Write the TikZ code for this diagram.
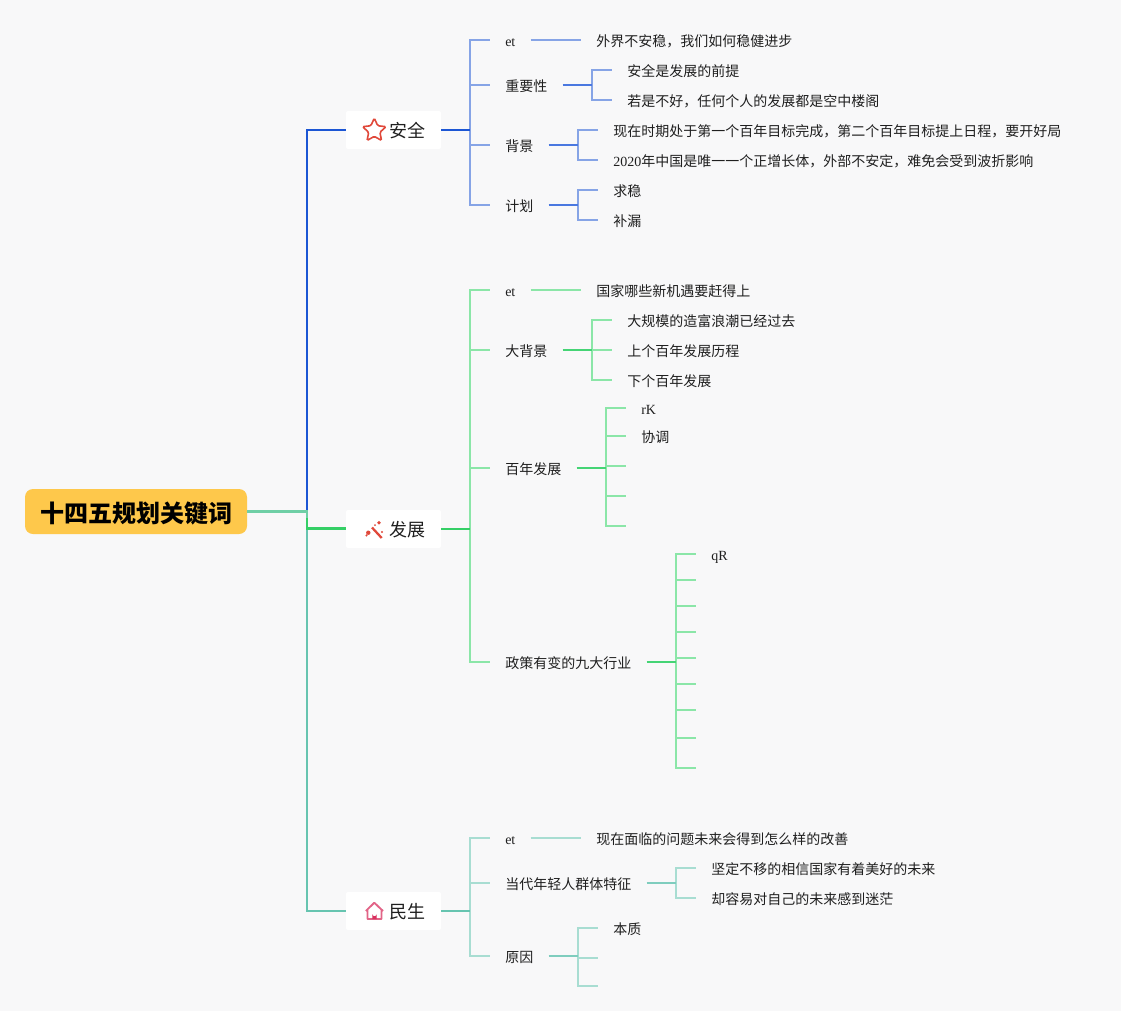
\documentclass[tikz,border=0pt]{standalone}
\usepackage{fontspec}
\usepackage{xcolor}
\usepackage{tikz}
\usetikzlibrary{shapes.geometric}
\setmainfont{Liberation Serif}
\newfontfamily\cjk{Noto Sans CJK SC}
\definecolor{kwbg}{HTML}{F8F8F9}
\definecolor{kwroot}{HTML}{FEC84B}
\definecolor{kwtext}{HTML}{1F1F1F}
\definecolor{kwred}{HTML}{E0483A}
\definecolor{kwpink}{HTML}{D9305F}
\definecolor{kwmain}{HTML}{6FCFA6}
\definecolor{safedark}{HTML}{1C56D4}
\definecolor{safemid}{HTML}{4A78E0}
\definecolor{safelight}{HTML}{86A4E6}
\definecolor{growdark}{HTML}{35CF66}
\definecolor{growmid}{HTML}{45D475}
\definecolor{growlight}{HTML}{8BE6A8}
\definecolor{lifedark}{HTML}{66C4B0}
\definecolor{lifemid}{HTML}{7FCDBE}
\definecolor{lifelight}{HTML}{A8DDD2}

\begin{document}
\begin{tikzpicture}[
    x=0.75pt, y=-0.75pt,
    rootbox/.style={rectangle, fill=kwroot, rounded corners=6pt, minimum width=166.5pt,
                  minimum height=33.75pt, inner sep=0pt, align=center, text=black,
                  text height=16.7pt, text depth=0pt,
                  font=\cjk\fontsize{18}{22}\selectfont\bfseries},
    section/.style={rectangle, fill=white, rounded corners=1.5pt, minimum height=28.5pt,
                  text width=47.25pt, inner xsep=12pt, inner ysep=0pt, align=right,
                  text height=11.3pt, text depth=0pt, text=kwtext,
                  font=\cjk\fontsize{13.5}{16}\selectfont},
    leaf/.style={rectangle, anchor=west, inner xsep=11.25pt, inner ysep=0pt,
                  text height=9.5pt, text depth=0pt, text=kwtext,
                  font=\cjk\fontsize{10.5}{13}\selectfont},
    mainline/.style={line width=2pt, kwmain},
    safestem/.style={line width=1.6pt, safemid},
    safetwig/.style={line width=1.35pt, safelight},
    growstem/.style={line width=1.6pt, growmid},
    growtwig/.style={line width=1.35pt, growlight},
    lifestem/.style={line width=1.6pt, lifemid},
    lifetwig/.style={line width=1.35pt, lifelight}
]
\fill[kwbg] (0,0) rectangle (1121,1011);
\useasboundingbox (0,0) rectangle (1121,1011);

\node[rootbox] (root) at (136,511.5) {十四五规划关键词};
\coordinate (hub) at (307,511.5);

% safety
\node[section] (safe) at (393.5,130) {安全};
\node[star, star points=5, star point ratio=2.1, draw=kwred, line width=1.2pt, rounded corners=1pt,
      inner sep=0pt, minimum size=18.5pt] (safeicon) at (374.3,130.5) {};
\coordinate (safebus) at (470,130);
\node[leaf] (s1) at (490,40) {\rmfamily et};
\node[leaf] (s1a) at (581,40) {外界不安稳，我们如何稳健进步};
\node[leaf] (s2) at (490,85) {重要性};
\coordinate (s2bus) at (592,85);
\node[leaf] (s2a) at (612,70) {安全是发展的前提};
\node[leaf] (s2b) at (612,100) {若是不好，任何个人的发展都是空中楼阁};
\node[leaf] (s3) at (490,145) {背景};
\coordinate (s3bus) at (578,145);
\node[leaf] (s3a) at (598,130) {现在时期处于第一个百年目标完成，第二个百年目标提上日程，要开好局};
\node[leaf] (s3b) at (598,160) {{\rmfamily 2020}年中国是唯一一个正增长体，外部不安定，难免会受到波折影响};
\node[leaf] (s4) at (490,205) {计划};
\coordinate (s4bus) at (578,205);
\node[leaf] (s4a) at (598,190) {求稳};
\node[leaf] (s4b) at (598,220) {补漏};

\draw[safetwig] (safebus) |- (s1.west);
\draw[safetwig] (safebus) |- (s2.west);
\draw[safetwig] (safebus) |- (s3.west);
\draw[safetwig] (safebus) |- (s4.west);
\draw[safetwig] (s1.east) -- (s1a.west);
\draw[safetwig] (s2bus) |- (s2a.west);
\draw[safetwig] (s2bus) |- (s2b.west);
\draw[safetwig] (s3bus) |- (s3a.west);
\draw[safetwig] (s3bus) |- (s3b.west);
\draw[safetwig] (s4bus) |- (s4a.west);
\draw[safetwig] (s4bus) |- (s4b.west);
\draw[safestem] (s2.east) -- (s2bus);
\draw[safestem] (s3.east) -- (s3bus);
\draw[safestem] (s4.east) -- (s4bus);
\draw[line width=1.5pt, safedark] (safe.east) -- (safebus);

% growth
\node[section] (grow) at (393.5,529) {发展};
\draw[kwred, line width=1.7pt] (372,527.5) -- (381.7,538);
\fill[kwred] (368.3,532.7) circle (2.2) (366.5,535.5) circle (1.2) (379,522.7) circle (1.8) (382,532) circle (1.2) (375,525) circle (1);
\coordinate (growbus) at (470,528.5);
\node[leaf] (g1) at (490,290) {\rmfamily et};
\node[leaf] (g1a) at (581,290) {国家哪些新机遇要赶得上};
\node[leaf] (g2) at (490,350) {大背景};
\coordinate (g2bus) at (592,350);
\node[leaf] (g2a) at (612,320) {大规模的造富浪潮已经过去};
\node[leaf] (g2b) at (612,350) {上个百年发展历程};
\node[leaf] (g2c) at (612,380) {下个百年发展};
\node[leaf] (g3) at (490,468) {百年发展};
\coordinate (g3bus) at (606,468);
\node[leaf] (g3a) at (626,408) {\rmfamily rK};
\node[leaf] (g3b) at (626,436) {协调};
\coordinate (g3c) at (626,466);
\coordinate (g3d) at (626,496);
\coordinate (g3e) at (626,526);
\node[leaf] (g4) at (490,662) {政策有变的九大行业};
\coordinate (g4bus) at (676,662);
\node[leaf] (g4a) at (696,554) {\rmfamily qR};
\coordinate (g4b) at (696,580);
\coordinate (g4c) at (696,606);
\coordinate (g4d) at (696,632);
\coordinate (g4e) at (696,658);
\coordinate (g4f) at (696,684);
\coordinate (g4g) at (696,710);
\coordinate (g4h) at (696,738);
\coordinate (g4i) at (696,768);

\draw[growtwig] (growbus) |- (g1.west);
\draw[growtwig] (growbus) |- (g2.west);
\draw[growtwig] (growbus) |- (g3.west);
\draw[growtwig] (growbus) |- (g4.west);
\draw[growtwig] (g1.east) -- (g1a.west);
\draw[growtwig] (g2bus) |- (g2a.west);
\draw[growtwig] (g2bus) -- (g2b.west);
\draw[growtwig] (g2bus) |- (g2c.west);
\draw[growtwig] (g3bus) |- (g3a.west);
\draw[growtwig] (g3bus) |- (g3b.west);
\draw[growtwig] (g3bus) |- (g3c);
\draw[growtwig] (g3bus) |- (g3d);
\draw[growtwig] (g3bus) |- (g3e);
\draw[growtwig] (g4bus) |- (g4a.west);
\draw[growtwig] (g4bus) |- (g4b);
\draw[growtwig] (g4bus) |- (g4c);
\draw[growtwig] (g4bus) |- (g4d);
\draw[growtwig] (g4bus) |- (g4e);
\draw[growtwig] (g4bus) |- (g4f);
\draw[growtwig] (g4bus) |- (g4g);
\draw[growtwig] (g4bus) |- (g4h);
\draw[growtwig] (g4bus) |- (g4i);
\draw[growstem] (g2.east) -- (g2bus);
\draw[growstem] (g3.east) -- (g3bus);
\draw[growstem] (g4.east) -- (g4bus);
\draw[line width=1.5pt, growdark] (grow.east |- growbus) -- (growbus);

% livelihood
\node[section] (life) at (393.5,911) {民生};
\draw[kwpink!75, line width=1.4pt, line join=round] (365.8,911) -- (374.3,902.7) -- (383,911) (367.5,909) -- (367.5,919) -- (381.5,919) -- (381.5,909);
\fill[kwpink] (372.3,919) -- (372.3,914) arc (180:0:2.2) -- (376.7,919) -- cycle;
\coordinate (lifebus) at (470,911);
\node[leaf] (l1) at (490,838) {\rmfamily et};
\node[leaf] (l1a) at (581,838) {现在面临的问题未来会得到怎么样的改善};
\node[leaf] (l2) at (490,883) {当代年轻人群体特征};
\coordinate (l2bus) at (676,883);
\node[leaf] (l2a) at (696,868) {坚定不移的相信国家有着美好的未来};
\node[leaf] (l2b) at (696,898) {却容易对自己的未来感到迷茫};
\node[leaf] (l3) at (490,956) {原因};
\coordinate (l3bus) at (578,956);
\node[leaf] (l3a) at (598,928) {本质};
\coordinate (l3b) at (598,958);
\coordinate (l3c) at (598,986);

\draw[lifetwig] (lifebus) |- (l1.west);
\draw[lifetwig] (lifebus) |- (l2.west);
\draw[lifetwig] (lifebus) |- (l3.west);
\draw[lifetwig] (l1.east) -- (l1a.west);
\draw[lifetwig] (l2bus) |- (l2a.west);
\draw[lifetwig] (l2bus) |- (l2b.west);
\draw[lifetwig] (l3bus) |- (l3a.west);
\draw[lifetwig] (l3bus) |- (l3b);
\draw[lifetwig] (l3bus) |- (l3c);
\draw[lifestem] (l2.east) -- (l2bus);
\draw[lifestem] (l3.east) -- (l3bus);
\draw[line width=1.5pt, lifedark] (life.east) -- (lifebus);

% root lines
\draw[line width=1.5pt, safedark] (hub) |- (safe.west);
\draw[line width=1.5pt, lifedark] (hub) |- (life.west);
\draw[line width=1.7pt, growdark] (hub) |- (grow.west |- growbus);
\draw[mainline] (root.east |- hub) -- (hub) -- ++(0,6);
\end{tikzpicture}
\end{document}
